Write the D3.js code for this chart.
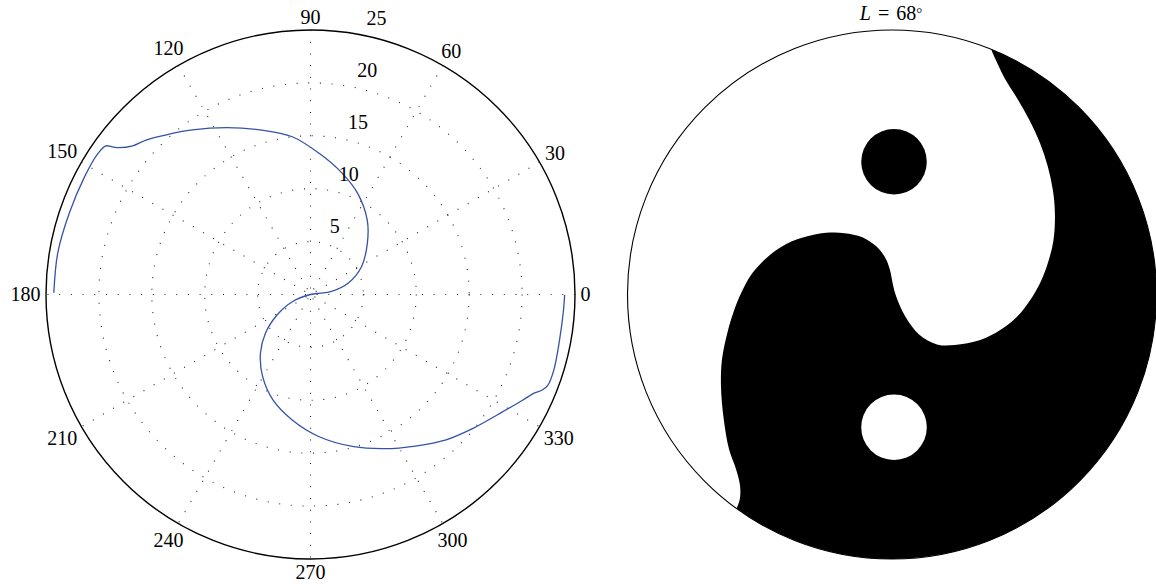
<!DOCTYPE html>
<html>
<head>
<meta charset="utf-8">
<script src="https://cdn.jsdelivr.net/npm/d3@7"></script>
<style>
  html, body { margin: 0; padding: 0; background: #fff; }
  svg { display: block; }
</style>
</head>
<body>
<svg id="chart"></svg>
<script>
// spiral curve, polar: angle in degrees, radius in data units
const spiralTheta = [179.6, 170.7, 161.4, 152.5, 146.4, 144.0, 143.4, 142.5, 140.1, 136.8,
  132.3, 125.7, 116.6, 106.6, 96.6, 86.5, 75.3, 65.0, 52.7, 42.0,
  28.6, 16.6, 7.9, 8.0, 0,
  201.6, 211.5, 220.7, 229.6, 239.8, 250.4, 261.7, 273.5, 285.9, 295.7,
  304.7, 313.0, 320.5, 327.9, 333.6, 336.3, 337.6, 339.1, 342.8, 349.6, 356.5, 359.9];
const spiralRho = [24.26, 24.21, 24.06, 24.08, 24.11, 23.9, 23.43, 22.79, 21.9, 21.33,
  20.38, 19.15, 17.63, 16.22, 15.01, 13.37, 11.84, 10.55, 8.85, 7.23,
  5.49, 3.70, 1.94, 0.9, 0,
  1.85, 3.71, 5.62, 7.30, 8.99, 10.58, 11.99, 13.47, 14.96, 16.17,
  17.42, 18.79, 19.9, 21.14, 22.42, 23.13, 23.7, 24.02, 24.08, 23.93, 23.96, 24.02];

const rTicks = [5, 10, 15, 20, 25];
const rMax = 25;
const spokeAngles = [0, 30, 60, 90, 120, 150];
const angleTicks = [0, 30, 60, 90, 120, 150, 180, 210, 240, 270, 300, 330];

// right panel: edge of the dark region inside the unit disc (u right, v up)
const edgeU = [0.3746, 0.3917, 0.4254, 0.4723, 0.5189, 0.5595, 0.5890, 0.6080, 0.6159, 0.6106,
  0.5890, 0.5595, 0.5227, 0.4735, 0.4091, 0.3333, 0.2371, 0.1701, 0.1023, 0.0492,
  0.0152, 0.0030, -0.0076, -0.0246, -0.0583, -0.1121, -0.1792, -0.2330, -0.3000, -0.3807,
  -0.4614, -0.5284, -0.5701, -0.5955, -0.6223, -0.6428, -0.6466, -0.6360, -0.6159, -0.5890,
  -0.5742, -0.5758, -0.5878];
const edgeV = [0.9272, 0.8883, 0.8189, 0.7432, 0.6610, 0.5727, 0.4841, 0.3958, 0.3076, 0.2064,
  0.1182, 0.0424, -0.0208, -0.0833, -0.1345, -0.1723, -0.1913, -0.1886, -0.1508, -0.0814,
  -0.0057, 0.0398, 0.0928, 0.1371, 0.1811, 0.2167, 0.2318, 0.2341, 0.2254, 0.2000,
  0.1496, 0.0803, 0.0057, -0.0561, -0.1447, -0.2455, -0.3466, -0.4727, -0.5864, -0.6621,
  -0.7254, -0.7758, -0.8090];
const edgeStartDeg = 68;   // where the edge leaves the rim
const edgeEndDeg = 234;    // where it meets the rim again
const spotU = [0.0076, 0.0076];
const spotV = [0.502, -0.502];
const spotR = [0.124, 0.124];
const spotFill = ["#000", "#fff"];
const title = {name: "L", value: "68"};

const width = 1156, height = 586;
const R = 264.5, cy = 294.5;
const cxL = 310.5, cxR = 892;
const fs = 20;
const font = "'Liberation Serif', 'DejaVu Serif', serif";

const svg = d3.select("#chart").attr("width", width).attr("height", height);
const rad = d => d * Math.PI / 180;

// ---------- left: polar plot ----------
const r = d3.scaleLinear().domain([0, rMax]).range([0, R]);
const gL = svg.append("g").attr("transform", `translate(${cxL},${cy})`);

gL.selectAll("circle.ring")
  .data(rTicks.filter(t => t < rMax))
  .enter().append("circle")
  .attr("class", "ring")
  .attr("r", d => r(d))
  .attr("fill", "none")
  .attr("stroke", "#222")
  .attr("stroke-width", 1.1)
  .attr("stroke-dasharray", "1,10.7");

gL.selectAll("line.spoke")
  .data(spokeAngles)
  .enter().append("line")
  .attr("class", "spoke")
  .attr("x1", d => r(rMax) * Math.cos(rad(d)))
  .attr("y1", d => -r(rMax) * Math.sin(rad(d)))
  .attr("x2", d => -r(rMax) * Math.cos(rad(d)))
  .attr("y2", d => r(rMax) * Math.sin(rad(d)))
  .attr("stroke", "#222")
  .attr("stroke-width", 1.1)
  .attr("stroke-dasharray", "1,10.7");

gL.append("circle")
  .attr("r", r(rMax))
  .attr("fill", "none")
  .attr("stroke", "#000")
  .attr("stroke-width", 1.4);

const spiral = spiralTheta.map((t, i) => ({t, rho: spiralRho[i]}));
const radial = d3.lineRadial()
  .angle(d => rad(90 - d.t))
  .radius(d => r(d.rho))
  .curve(d3.curveCatmullRom.alpha(0.5));

gL.append("path")
  .datum(spiral)
  .attr("d", radial)
  .attr("fill", "none")
  .attr("stroke", "#3353a6")
  .attr("stroke-width", 1.3);

// radius labels along the 80 degree ray
const a80 = rad(80);
gL.selectAll("text.rlab")
  .data(rTicks)
  .enter().append("text")
  .attr("class", "rlab")
  .attr("x", d => r(d) * Math.cos(a80) + 10)
  .attr("y", d => -r(d) * Math.sin(a80) - 9)
  .attr("font-family", font)
  .attr("font-size", fs)
  .text(d => d);

// angle labels round the rim
const alab = gL.selectAll("text.alab")
  .data(angleTicks)
  .enter().append("text")
  .attr("class", "alab")
  .attr("text-anchor", "middle")
  .attr("font-family", font)
  .attr("font-size", fs)
  .text(d => d);

alab.each(function(d) {
  const w = this.getComputedTextLength();
  const c = Math.cos(rad(d)), s = Math.sin(rad(d));
  const rr = 270 + Math.abs(c) * w / 2 + Math.abs(s) * 7.5;
  d3.select(this)
    .attr("x", rr * c)
    .attr("y", -rr * s + 0.34 * fs);
});

// ---------- right: disc ----------
const x = d3.scaleLinear().domain([-1, 1]).range([cxR - R, cxR + R]);
const y = d3.scaleLinear().domain([-1, 1]).range([cy + R, cy - R]);
const gR = svg.append("g");

gR.append("circle")
  .attr("cx", x(0)).attr("cy", y(0))
  .attr("r", x(1) - x(0))
  .attr("fill", "#fff")
  .attr("stroke", "#000")
  .attr("stroke-width", 1.1);

const edge = edgeU.map((u, i) => ({u, v: edgeV[i]}));
edge[0] = {u: Math.cos(rad(edgeStartDeg)), v: Math.sin(rad(edgeStartDeg))};
edge[edge.length - 1] = {u: Math.cos(rad(edgeEndDeg)), v: Math.sin(rad(edgeEndDeg))};

const edgeLine = d3.line()
  .x(d => x(d.u))
  .y(d => y(d.v))
  .curve(d3.curveCatmullRom.alpha(0.5));

const Rpx = x(1) - x(0);
const start = edge[0];
const blackPath = edgeLine(edge) +
  `A${Rpx},${Rpx} 0 1 0 ${x(start.u)},${y(start.v)}Z`;

gR.append("path")
  .attr("d", blackPath)
  .attr("fill", "#000");

gR.selectAll("circle.spot")
  .data(spotU.map((u, i) => ({u, v: spotV[i], r: spotR[i], fill: spotFill[i]})))
  .enter().append("circle")
  .attr("class", "spot")
  .attr("cx", d => x(d.u))
  .attr("cy", d => y(d.v))
  .attr("r", d => x(d.r) - x(0))
  .attr("fill", d => d.fill);

const t = gR.append("text")
  .attr("x", x(0) - 1)
  .attr("y", 20)
  .attr("text-anchor", "middle")
  .attr("font-family", font)
  .attr("font-size", fs);
t.append("tspan").attr("font-style", "italic").text(title.name);
t.append("tspan").attr("dx", 2).text(" = ");
t.append("tspan").attr("dx", 2).text(title.value);
t.append("tspan").attr("font-size", fs * 0.75).attr("dy", -2).text("\u00B0");
</script>
</body>
</html>
